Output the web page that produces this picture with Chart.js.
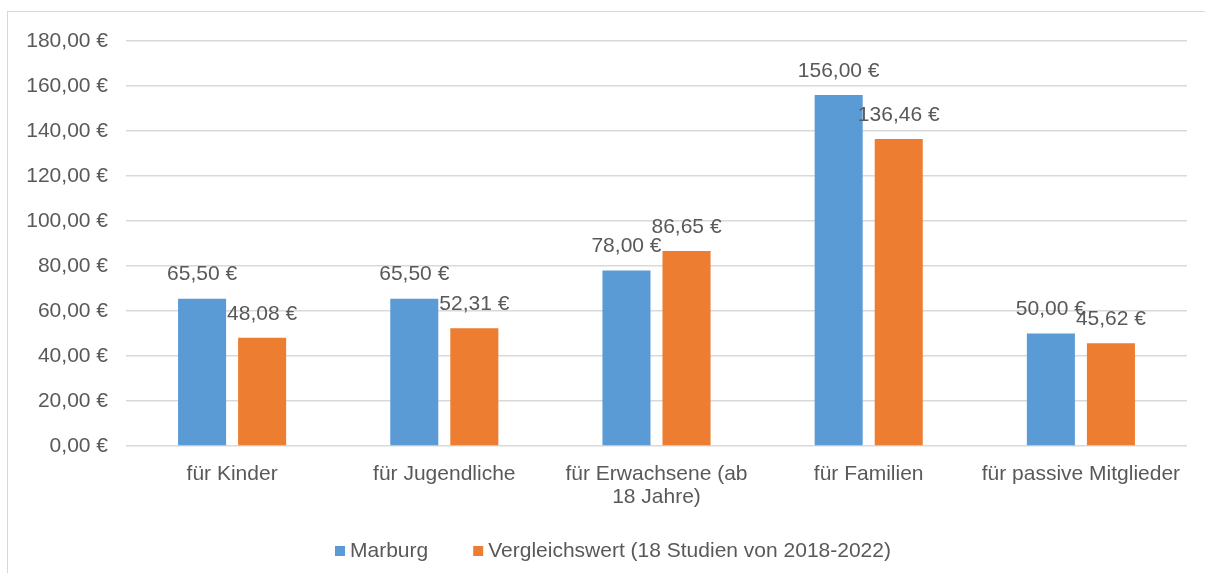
<!DOCTYPE html>
<html>
<head>
<meta charset="utf-8">
<script src="https://cdn.jsdelivr.net/npm/chart.js@4"></script>
<style>
  body { margin: 0; background: #fff; }
  #frame { position: absolute; left: 7px; top: 11px; width: 1300px; height: 700px;
           border-left: 1px solid #d9d9d9; border-top: 1px solid #d9d9d9; }
  #wrap { position: absolute; left: 0; top: 0; width: 1205px; height: 573px; }
</style>
</head>
<body>
<div id="frame"></div>
<div id="wrap"><canvas id="beitragChart"></canvas></div>
<script>
// --- Daten ---
const categories = ['für Kinder', 'für Jugendliche', ['für Erwachsene (ab', '18 Jahre)'], 'für Familien', 'für passive Mitglieder'];
const marburg = [65.50, 65.50, 78.00, 156.00, 50.00];
const vergleich = [48.08, 52.31, 86.65, 136.46, 45.62];
const seriesNames = ['Marburg', 'Vergleichswert (18 Studien von 2018-2022)'];
const yTicks = [0, 20, 40, 60, 80, 100, 120, 140, 160, 180];

const BLUE = '#5B9BD5';
const ORANGE = '#ED7D31';
const TEXT = '#595959';
const FONT = 'Liberation Sans, Arial, sans-serif';

function euro(v) {
  return v.toFixed(2).replace('.', ',') + ' €';
}

// Werte über den Balken
const valueLabels = {
  id: 'valueLabels',
  afterDatasetsDraw(chart) {
    const ctx = chart.ctx;
    ctx.save();
    ctx.font = '21px ' + FONT;
    ctx.fillStyle = TEXT;
    ctx.textAlign = 'center';
    ctx.textBaseline = 'middle';
    chart.data.datasets.forEach((ds, i) => {
      chart.getDatasetMeta(i).data.forEach((bar, j) => {
        ctx.fillText(euro(ds.data[j]), bar.x, bar.y - 24);
      });
    });
    ctx.restore();
  }
};

// Legende unten (Excel-Stil, kleine Quadrate)
const bottomLegend = {
  id: 'bottomLegend',
  afterDraw(chart) {
    const ctx = chart.ctx;
    ctx.save();
    ctx.font = '21px ' + FONT;
    ctx.textBaseline = 'middle';
    let x = 335;
    const y = 551;
    chart.data.datasets.forEach((ds) => {
      ctx.fillStyle = ds.backgroundColor;
      ctx.fillRect(x, y - 5, 10, 10);
      x += 15;
      ctx.fillStyle = TEXT;
      ctx.textAlign = 'left';
      ctx.fillText(ds.label, x, y);
      x += ctx.measureText(ds.label).width + 45;
    });
    ctx.restore();
  }
};

new Chart(document.getElementById('beitragChart'), {
  type: 'bar',
  data: {
    labels: categories,
    datasets: [
      { label: seriesNames[0], data: marburg, backgroundColor: BLUE },
      { label: seriesNames[1], data: vergleich, backgroundColor: ORANGE }
    ]
  },
  options: {
    responsive: true,
    maintainAspectRatio: false,
    animation: false,
    layout: { padding: { top: 41, right: 18, left: 0, bottom: 0 } },
    datasets: { bar: { categoryPercentage: 0.566, barPercentage: 0.8 } },
    plugins: {
      legend: { display: false },
      tooltip: { enabled: false }
    },
    scales: {
      x: {
        grid: { display: false },
        border: { display: false },
        ticks: { color: TEXT, font: { family: FONT, size: 21, lineHeight: 1.1 }, padding: 9, maxRotation: 0 },
        afterFit(scale) { scale.height = 127; }
      },
      y: {
        min: 0,
        max: 180,
        afterBuildTicks(scale) { scale.ticks = yTicks.map(v => ({ value: v })); },
        grid: { color: '#d9d9d9', lineWidth: 1.5, drawTicks: false },
        border: { display: false },
        ticks: { color: TEXT, font: { family: FONT, size: 21 }, padding: 18, callback: v => euro(v) },
        afterFit(scale) { scale.width = 126; }
      }
    }
  },
  plugins: [valueLabels, bottomLegend]
});
</script>
</body>
</html>
